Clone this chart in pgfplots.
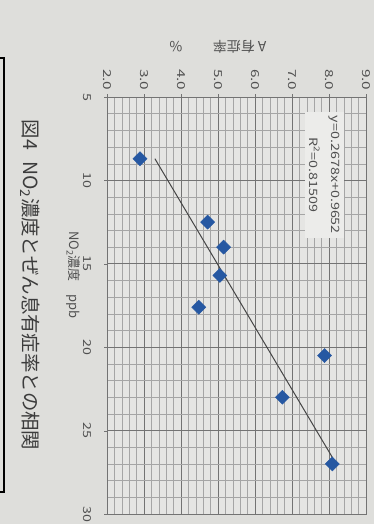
\documentclass[border=0pt]{standalone}
\usepackage{fontspec}
\setmainfont{Noto Sans CJK JP}
\usepackage{graphicx}
\usepackage{pgfplots}
\pgfplotsset{compat=1.18}
\definecolor{bg}{RGB}{222,222,219}
\definecolor{plotbg}{RGB}{229,229,227}
\definecolor{txt}{RGB}{80,80,80}
\definecolor{majg}{RGB}{115,115,115}
\definecolor{ming}{RGB}{165,165,165}
\definecolor{mk}{RGB}{38,88,162}
\definecolor{boxbg}{RGB}{236,236,234}
\definecolor{trend}{RGB}{70,70,70}
\begin{document}
\begin{tikzpicture}[x=1bp,y=1bp]
\useasboundingbox (0,0) rectangle (374,-524);
\fill[bg] (0,0) rectangle (374,-524);
\draw[black, line width=1.3bp] (0,-58) -- (4,-58) -- (4,-492) -- (0,-492);
\begin{axis}[
  at={(107bp,-97bp)}, anchor=north west,
  width=259bp, height=417bp, scale only axis,
  xmin=2, xmax=9, ymin=5, ymax=30, y dir=reverse,
  axis background/.style={fill=plotbg},
  xtick={2,3,...,9}, ytick={5,10,...,30},
  minor x tick num=4, minor y tick num=4,
  grid=both,
  major grid style={majg, line width=0.7bp},
  minor grid style={ming, line width=0.45bp},
  axis line style={majg, line width=0.7bp},
  tick align=outside, major tick length=3bp, minor tick length=0pt,
  tick style={majg},
  xtick pos=upper, xticklabel pos=upper,
  ytick pos=left, yticklabel pos=left,
  /pgf/number format/assume math mode=true,
  xticklabel={\scalebox{1.4}[1]{\pgfmathprintnumber[fixed,fixed zerofill,precision=1]{\tick}}},
  xticklabel style={rotate=-90, anchor=east, font=\fontsize{11}{13}\selectfont, text=txt},
  yticklabel={\scalebox{1.3}[1]{\pgfmathprintnumber{\tick}}},
  yticklabel style={rotate=-90, anchor=north, yshift=-9bp, font=\fontsize{11}{13}\selectfont, text=txt},
  clip=false,
]
\addplot[no marks, line width=1bp, color=trend] coordinates {(3.295,8.7) (8.196,27.0)};
\addplot[only marks, mark=square*, mark size=5bp, mark options={rotate=45, fill=mk, draw=mk}] coordinates {
(2.89,8.7) (4.72,12.5) (5.15,14.0) (5.05,15.7) (4.48,17.6) (7.88,20.5) (6.74,23.0) (8.09,27.0)};
\node[rotate=-90, fill=boxbg, align=center, inner sep=4bp, text=txt, font=\fontsize{11.5}{22}\selectfont] at (axis cs:7.88,9.67) {\scalebox{1.25}[1]{y=0.2678x+0.9652}\\\scalebox{1.25}[1]{R\textsuperscript{2}=0.81509}};
\end{axis}
\node[rotate=180, text=txt, font=\fontsize{14}{16}\selectfont] at (218,-47) {A 有症率\hspace{2.2em}\%};
\node[rotate=-90, text=txt, font=\fontsize{13}{15}\selectfont] at (73,-275) {NO\textsubscript{2}濃度\hspace{1em}ppb};
\node[rotate=-90, text={rgb,255:red,60;green,60;blue,60}, font=\fontsize{19.5}{21}\selectfont] at (30,-285) {図4\hspace{0.6em}NO\textsubscript{2}濃度とぜん息有症率との相関};
\end{tikzpicture}
\end{document}
